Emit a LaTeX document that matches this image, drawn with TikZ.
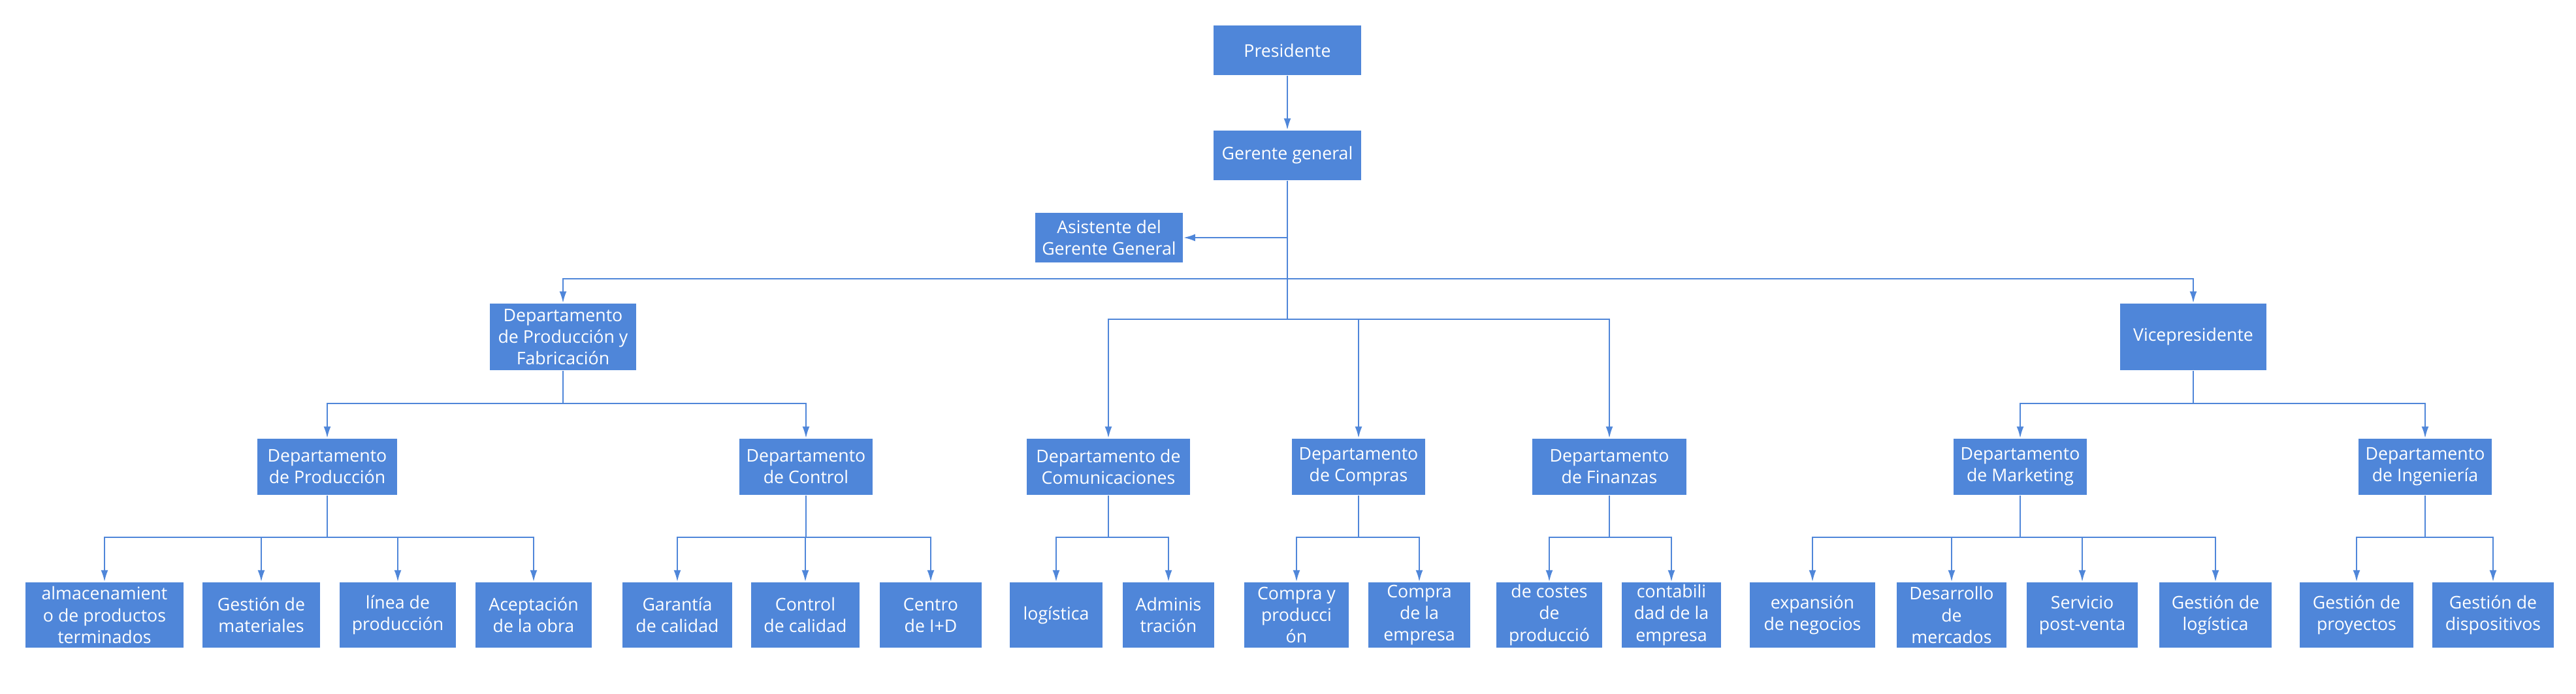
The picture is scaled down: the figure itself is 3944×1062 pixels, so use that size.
\documentclass[tikz,border=0pt]{standalone}
\usepackage{fontspec}
\setmainfont{Open Sans}
\usetikzlibrary{arrows.meta, positioning}
\definecolor{orgblue}{HTML}{4F86D9}

\begin{document}
\begin{tikzpicture}[x=0.01cm, y=-0.01cm,
    unit/.style={rectangle, fill=orgblue, text=white, align=center, inner sep=0pt,
      font=\fontsize{7.6pt}{9.4pt}\selectfont},
    head/.style={unit, minimum width=2.26cm, minimum height=0.76cm},
    branch/.style={unit, minimum width=2.24cm, minimum height=1.02cm},
    dept/.style={unit, minimum height=0.86cm},
    leaf/.style={unit, minimum height=1.0cm},
    arr/.style={-{Latex[length=0.18cm, width=0.11cm]}, line width=0.7pt, orgblue},
    link/.style={line width=0.7pt, orgblue}
  ]
    \useasboundingbox (0,0) rectangle (3944,1062);

    \node[head] (pres) at (1971,77) {Presidente};
    \node[head] (gg) at (1971,238) {Gerente general};
    \node[head] (asis) at (1698,364) {Asistente del\\Gerente General};
    \node[branch] (dpf) at (862,516) {Departamento\\de Producción y\\Fabricación};
    \node[branch] (vice) at (3358,516) {Vicepresidente};

    \node[dept, minimum width=2.14cm] (prod) at (501,715) {Departamento\\de Producción};
    \node[dept, minimum width=2.04cm] (ctrl) at (1234,715) {Departamento\\de Control};
    \node[dept, minimum width=2.49cm] (com) at (1697,715) {Departamento de\\Comunicaciones};
    \node[dept, minimum width=2.04cm] (comp) at (2080,715) {Departamento\\de Compras};
    \node[dept, minimum width=2.35cm] (fin) at (2464,715) {Departamento\\de Finanzas};
    \node[dept, minimum width=2.04cm] (mkt) at (3093,715) {Departamento\\de Marketing};
    \node[dept, minimum width=2.04cm] (ing) at (3713,715) {Departamento\\de Ingeniería};

    \node[leaf, minimum width=2.42cm] (alm) at (160,942) {almacenamient\\o de productos\\terminados};
    \node[leaf, minimum width=1.79cm] (mat) at (400,942) {Gestión de\\materiales};
    \node[leaf, minimum width=1.78cm] (lin) at (609,942) {línea de\\producción};
    \node[leaf, minimum width=1.78cm] (acep) at (817,942) {Aceptación\\de la obra};
    \node[leaf, minimum width=1.68cm] (gar) at (1037,942) {Garantía\\de calidad};
    \node[leaf, minimum width=1.65cm] (cc) at (1233,942) {Control\\de calidad};
    \node[leaf, minimum width=1.55cm] (cid) at (1425,942) {Centro\\de I+D};
    \node[leaf, minimum width=1.41cm] (log) at (1617,942) {logística};
    \node[leaf, minimum width=1.40cm] (adm) at (1789,942) {Adminis\\tración};
    \node[leaf, minimum width=1.60cm] (cyp) at (1985,942) {Compra y\\producci\\ón};
    \node[leaf, minimum width=1.55cm] (cde) at (2173,942) {Compra\\de la\\empresa};
    \node[leaf, minimum width=1.61cm] (cos) at (2372,942) {de costes\\de\\producció};
    \node[leaf, minimum width=1.52cm] (cont) at (2559,942) {contabili\\dad de la\\empresa};
    \node[leaf, minimum width=1.91cm] (exp) at (2775,942) {expansión\\de negocios};
    \node[leaf, minimum width=1.67cm] (des) at (2988,942) {Desarrollo\\de\\mercados};
    \node[leaf, minimum width=1.69cm] (serv) at (3188,942) {Servicio\\post-venta};
    \node[leaf, minimum width=1.71cm] (glog) at (3392,942) {Gestión de\\logística};
    \node[leaf, minimum width=1.73cm] (gpro) at (3608,942) {Gestión de\\proyectos};
    \node[leaf, minimum width=1.86cm] (gdis) at (3817,942) {Gestión de\\dispositivos};

    % top of the chart
    \draw[arr] (pres) -- (gg);
    \draw[link] (gg.south) -- (gg.south |- 0,489) coordinate (gg-br);
    \draw[arr] (gg.south |- asis.east) -- (asis.east);
    \draw[arr] (gg.south |- 0,427) -| (dpf.north);
    \draw[arr] (gg.south |- 0,427) -| (vice.north);
    \foreach \k in {com,comp,fin}
      \draw[arr] (gg-br) -| (\k.north);

    \foreach \p/\kids in {dpf/{prod,ctrl}, vice/{mkt,ing}} {
      \draw[link] (\p.south) -- (\p.south |- 0,618) coordinate (\p-br);
      \foreach \k in \kids
        \draw[arr] (\p-br) -| (\k.north);
    }

    % departments to their units
    \foreach \p/\kids in {prod/{alm,mat,lin,acep}, ctrl/{gar,cc,cid}, com/{log,adm},
        comp/{cyp,cde}, fin/{cos,cont}, mkt/{exp,des,serv,glog}, ing/{gpro,gdis}} {
      \draw[link] (\p.south) -- (\p.south |- 0,823) coordinate (\p-br);
      \foreach \k in \kids
        \draw[arr] (\p-br) -| (\k.north);
    }
  \end{tikzpicture}
\end{document}
